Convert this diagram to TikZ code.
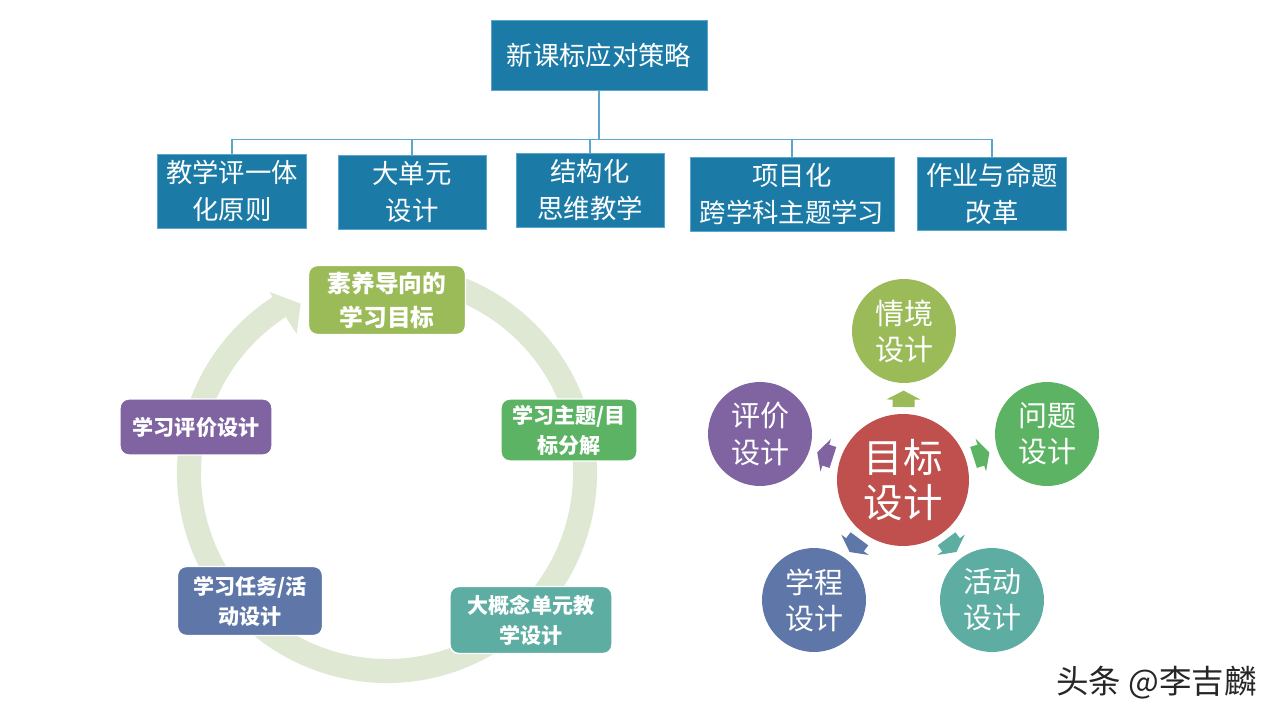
\documentclass[tikz,border=0pt]{standalone}
\usepackage{fontspec}
\setmainfont{Noto Sans CJK SC}
\usetikzlibrary{calc,arrows.meta}

\definecolor{planblue}{HTML}{1B7BA6}
\definecolor{linkblue}{HTML}{5AA6CC}
\definecolor{ringgreen}{HTML}{DFE8D2}
\definecolor{cOlive}{HTML}{9BBB59}
\definecolor{cLeaf}{HTML}{5CB363}
\definecolor{cTeal}{HTML}{5DADA3}
\definecolor{cSlate}{HTML}{5E77A8}
\definecolor{cPlum}{HTML}{8064A2}
\definecolor{cBrick}{HTML}{C0504D}

\begin{document}
\begin{tikzpicture}
  [x=0.02cm, y=-0.02cm,
   topbox/.style = {fill=planblue, draw=linkblue, line width=0.5pt, text=white,
                    inner sep=0pt, align=center, font=\fontsize{15}{21}\selectfont},
   link/.style = {linkblue, line width=0.9pt},
   stage/.style = {rounded corners=5pt, draw=white, line width=0.8pt, text=white,
                   inner sep=0pt, align=center, font=\bfseries\fontsize{12}{17}\selectfont},
   petal/.style = {circle, minimum size=2.08cm, inner sep=0pt, text=white,
                   align=center, font=\fontsize{16.5}{20.5}\selectfont},
   pointer/.style = {line width=0.44cm, -{Triangle[width=0.68cm, length=0.18cm]}}]
  \useasboundingbox (0,0) rectangle (1279,720);

  % strategy tree
  \node[topbox, minimum width=4.32cm, minimum height=1.4cm] (plan) at (599,55) {新课标应对策略};
  \node[topbox, minimum width=2.98cm, minimum height=1.48cm] (unity) at (232,191) {教学评一体\\化原则};
  \node[topbox, minimum width=2.96cm, minimum height=1.48cm] (unit) at (412,192) {大单元\\设计};
  \node[topbox, minimum width=2.96cm, minimum height=1.48cm] (struct) at (590,190) {结构化\\思维教学};
  \node[topbox, minimum width=4.08cm, minimum height=1.48cm] (project) at (792,194) {项目化\\跨学科主题学习};
  \node[topbox, minimum width=2.98cm, minimum height=1.46cm] (homework) at (992,194) {作业与命题\\改革};
  \foreach \c in {unity,unit,struct,project,homework}
    \draw[link] (plan.south) -- ++(0,49) -| (\c.north);

  % cycle of unit design
  \coordinate (cyc) at (387,473);
  \fill[ringgreen] ($(cyc)+(-75:210)$) arc[start angle=-75, end angle=237, radius=210]
    -- ($(cyc)+(237:216)$) -- ($(cyc)+(243:190)$) -- ($(cyc)+(237:166)$)
    -- ($(cyc)+(237:186)$) arc[start angle=237, end angle=-75, radius=186] -- cycle;
  \node[stage, fill=cOlive, minimum width=3.14cm, minimum height=1.38cm,
        font=\bfseries\fontsize{13.5}{19.3}\selectfont] (goal) at (387,300) {素养导向的\\学习目标};
  \node[stage, fill=cLeaf, minimum width=2.72cm, minimum height=1.24cm] (topic) at (569,430) {学习主题/目\\标分解};
  \node[stage, fill=cTeal, minimum width=3.24cm, minimum height=1.34cm] (bigidea) at (531,620) {大概念单元教\\学设计};
  \node[stage, fill=cSlate, minimum width=2.90cm, minimum height=1.38cm] (task) at (250,601) {学习任务/活\\动设计};
  \node[stage, fill=cPlum, minimum width=3.04cm, minimum height=1.12cm] (review) at (196,427) {学习评价设计};

  % design around the goal
  \node[petal, fill=cBrick, minimum size=2.64cm, font=\fontsize{22.5}{26}\selectfont] (aim) at (903,480) {目标\\设计};
  \node[petal, fill=cOlive] (scene) at (904,331) {情境\\设计};
  \node[petal, fill=cLeaf] (question) at (1047,434) {问题\\设计};
  \node[petal, fill=cTeal] (activity) at (992,600) {活动\\设计};
  \node[petal, fill=cSlate] (course) at (814,600) {学程\\设计};
  \node[petal, fill=cPlum] (assess) at (760,434) {评价\\设计};
  \foreach \t/\c in {scene/cOlive, question/cLeaf, activity/cTeal, course/cSlate, assess/cPlum}
    \draw[pointer, \c] ($(aim)!0.49!(\t)$) -- ($(aim)!0.6!(\t)$);

  \node[anchor=west, text=black!85, inner sep=0pt, font=\fontsize{18.5}{22}\selectfont] (mark) at (1056,683) {头条 @李吉麟};
\end{tikzpicture}
\end{document}
